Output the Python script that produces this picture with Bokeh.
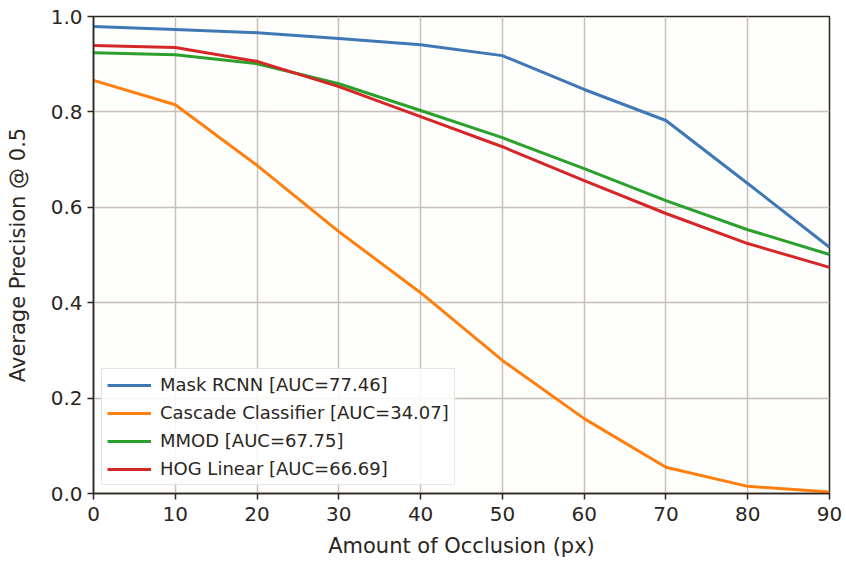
from bokeh.plotting import figure
from bokeh.models import Range1d, FixedTicker, Legend, LegendItem, NumeralTickFormatter
from bokeh.embed import file_html
from bokeh.resources import INLINE

occlusion = [0, 10, 20, 30, 40, 50, 60, 70, 80, 90]
mask_rcnn = [0.979, 0.973, 0.966, 0.954, 0.941, 0.918, 0.847, 0.782, 0.650, 0.516]
cascade = [0.866, 0.815, 0.688, 0.549, 0.421, 0.279, 0.157, 0.055, 0.015, 0.003]
mmod = [0.924, 0.920, 0.901, 0.859, 0.803, 0.746, 0.681, 0.614, 0.553, 0.501]
hog = [0.939, 0.935, 0.906, 0.853, 0.790, 0.727, 0.656, 0.587, 0.524, 0.474]
labels = ["Mask RCNN [AUC=77.46]", "Cascade Classifier [AUC=34.07]",
          "MMOD [AUC=67.75]", "HOG Linear [AUC=66.69]"]
colors = ["#3f78b4", "#ff7f0e", "#2ca02c", "#d62728"]
x_ticks = [0, 10, 20, 30, 40, 50, 60, 70, 80, 90]
y_ticks = [0.0, 0.2, 0.4, 0.6, 0.8, 1.0]

p = figure(width=846, height=566, output_backend="svg", toolbar_location=None,
           x_range=Range1d(0, 90), y_range=Range1d(0, 1.0),
           min_border_left=93, min_border_right=17, min_border_top=16, min_border_bottom=73)
p.background_fill_color = "#fefefd"
p.border_fill_color = "white"
p.outline_line_color = "#2b2622"
p.outline_line_width = 1.5

font = "DejaVu Sans"
for ax in (p.xaxis[0], p.yaxis[0]):
    ax.axis_line_color = "#2b2622"
    ax.axis_line_width = 1.5
    ax.major_tick_line_color = "#2b2622"
    ax.major_tick_line_width = 1.5
    ax.major_tick_out = 6
    ax.major_tick_in = 0
    ax.minor_tick_line_color = None
    ax.major_label_text_font = font
    ax.major_label_text_font_size = "20px"
    ax.major_label_text_color = "#2b2622"
    ax.axis_label_text_font = font
    ax.axis_label_text_font_size = "21px"
    ax.axis_label_text_font_style = "normal"
    ax.axis_label_text_color = "#2b2622"

p.xaxis.ticker = FixedTicker(ticks=x_ticks)
p.yaxis.ticker = FixedTicker(ticks=y_ticks)
p.yaxis.formatter = NumeralTickFormatter(format="0.0")
p.xaxis.axis_label = "Amount of Occlusion (px)"
p.yaxis.axis_label = "Average Precision @ 0.5"
p.xaxis.major_label_standoff = 7
p.yaxis.major_label_standoff = 5
p.xaxis.axis_label_standoff = 10
p.yaxis.axis_label_standoff = 18

p.grid.grid_line_color = "#c8bfb9"
p.grid.grid_line_width = 1.5

items = []
for ys, c, lab in zip([mask_rcnn, cascade, mmod, hog], colors, labels):
    r = p.line(occlusion, ys, line_color=c, line_width=3)
    items.append(LegendItem(label=lab, renderers=[r]))

legend = Legend(items=items, location="bottom_left")
legend.label_text_font = font
legend.label_text_font_size = "18px"
legend.label_text_color = "#2b2622"
legend.glyph_width = 44
legend.glyph_height = 20
legend.label_height = 20
legend.spacing = 7
legend.padding = 5
legend.margin = 8
legend.label_standoff = 9
legend.border_line_color = "#d0cbc7"
legend.border_line_width = 1.5
legend.background_fill_color = "white"
legend.background_fill_alpha = 0.85
p.add_layout(legend, "center")

open("out.html", "w").write(file_html(p, INLINE))
